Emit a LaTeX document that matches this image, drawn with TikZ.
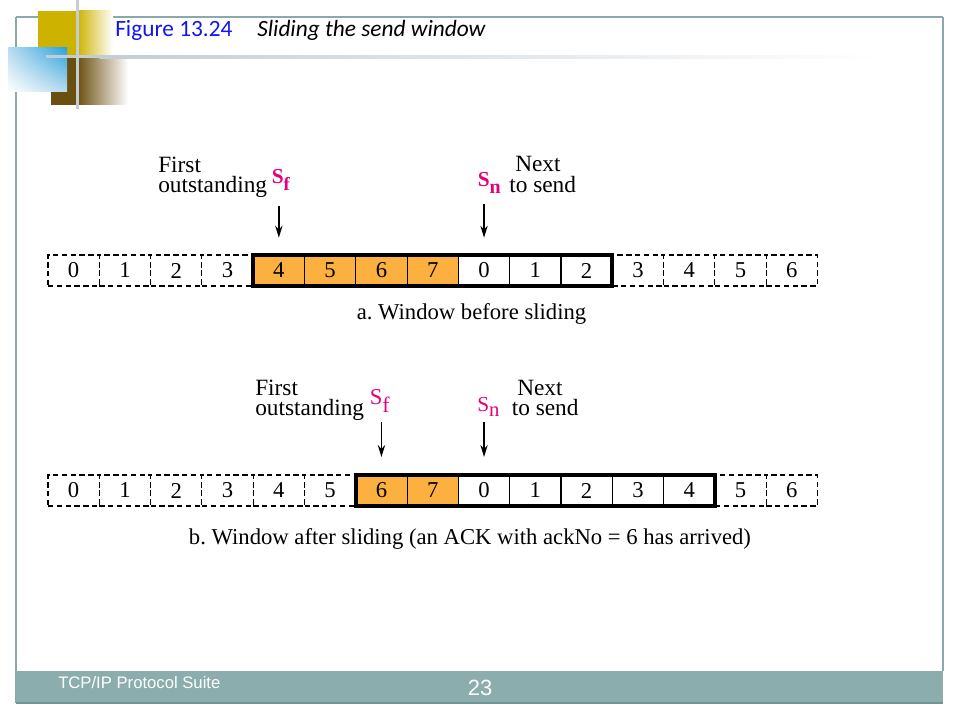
\documentclass[tikz,border=0pt]{standalone}
\usepackage{fontspec}
\setmainfont{Liberation Serif}
\newfontfamily\titlefont{Carlito}
\newfontfamily\footfont{Liberation Sans}
\usetikzlibrary{arrows.meta,shadings}
\definecolor{winorange}{HTML}{FBB040}
\definecolor{ptrmag}{HTML}{E6007E}
\definecolor{framecol}{HTML}{8AA9A9}
\definecolor{framedark}{HTML}{6F9494}
\definecolor{footband}{HTML}{8BADAD}
\definecolor{decogold}{HTML}{CDB200}
\definecolor{decobrown}{HTML}{6B4F0E}
\definecolor{decoblue}{HTML}{2AA3DC}
\definecolor{decolight}{HTML}{B9DBEF}
\definecolor{decoline}{HTML}{C3CDD5}
\definecolor{titleblue}{HTML}{1414F0}
\frenchspacing
\begin{document}
\begin{tikzpicture}[x=0.75pt,y=-0.75pt,
  cellbase/.style={minimum width=38.475pt, minimum height=23.25pt, inner sep=0pt, outer sep=0pt, font=\fontsize{17}{17}\selectfont},
  outcell/.style={cellbase, draw, dash pattern=on 4pt off 2.6pt, line width=0.8pt},
  incell/.style={cellbase, draw, line width=0.9pt, fill=white},
  sentcell/.style={incell, fill=winorange},
  winframe/.style={draw, line width=3pt},
  ptr/.style={-{Stealth[length=9pt,width=5.5pt]}, line width=1pt},
  lbl/.style={anchor=base west, inner sep=0pt, font=\fontsize{17.5}{17.5}\selectfont},
  lineone/.style={lbl, text depth=0pt},
  linetwo/.style={lbl, text height=11pt},
  capt/.style={anchor=base, inner sep=0pt, font=\fontsize{17}{17}\selectfont},
  ptrlbl/.style={anchor=base west, inner sep=0pt, text=ptrmag, text height=10pt}
]
\useasboundingbox (0,0) rectangle (960,720);
\fill[white] (0,0) rectangle (960,720);

% slide frame
\draw[framecol, line width=0.9pt] (16,17) -- (943,17);
\draw[framecol, line width=0.9pt] (16,17) -- (16,703);
\draw[framecol, line width=0.9pt] (943,17) -- (943,671);
\fill[footband] (16,671) rectangle (943,702);
\draw[framedark, line width=1pt] (16,703) -- (943,703);

% decoration
\fill[decogold] (38,11) rectangle (77.5,57);
\shade[left color=decogold, right color=white] (77,11) rectangle (113,57);
\fill[decobrown] (51,57) rectangle (77.5,105);
\shade[left color=decobrown, right color=white] (77,57) rectangle (128,105);
\shade[upper left=decolight, upper right=decoblue, lower left=white, lower right=decolight] (8,48) rectangle (67,92);
\fill[decoline] (76,0) rectangle (79,109);
\fill[decoline] (46,55.5) rectangle (100,58.5);
\shade[left color=decoline, right color=white] (99.5,55.5) rectangle (880,58.5);

% title
\node[anchor=base west, inner sep=0pt, text=titleblue, font=\titlefont\fontsize{17.5}{17.5}\selectfont] (fignum) at (115,36.5) {Figure 13.24};
\node[anchor=base west, inner sep=0pt, font=\titlefont\itshape\fontsize{17.5}{17.5}\selectfont] (figtitle) at (257,36.5) {Sliding the send window};

% row a
\foreach \i in {0,...,3} \node[outcell] (a\i) at ({73.65+51.3*\i},270.5) {\i};
\foreach \i/\l in {4/4,5/5,6/6,7/7} \node[sentcell] (a\i) at ({73.65+51.3*\i},270.5) {\l};
\foreach \i/\l in {8/0,9/1,10/2} \node[incell] (a\i) at ({73.65+51.3*\i},270.5) {\l};
\foreach \i/\l in {11/3,12/4,13/5,14/6} \node[outcell] (a\i) at ({73.65+51.3*\i},270.5) {\l};
\draw[winframe] (a4.north west) rectangle (a10.south east);

\node[lineone] (firstA) at (158,172.7) {First};
\node[linetwo] (outA) at (158,193) {outstanding};
\node[ptrlbl, font=\bfseries\fontsize{16}{16}\selectfont] (sfA) at (271.5,183.5) {S\raisebox{-5.25pt}{\fontsize{14}{14}\selectfont f}};
\node[ptrlbl, font=\bfseries\fontsize{16}{16}\selectfont] (snA) at (477.5,186.5) {S\raisebox{-5pt}{\fontsize{15}{15}\selectfont n}};
\node[lineone] (nextA) at (515,171.7) {Next};
\node[linetwo] (sendA) at (509,192.5) {to send};
\coordinate (sfTopA) at (a4 |- 0,206);
\coordinate (snTopA) at (a8 |- 0,204);
\draw[ptr, shorten >=13pt] (sfTopA) -- (a4.north);
\draw[ptr, shorten >=13pt] (snTopA) -- (a8.north);
\node[capt] (capA) at (471.5,320) {a. Window before sliding};

% row b
\foreach \i in {0,...,5} \node[outcell] (b\i) at ({73.65+51.3*\i},490.5) {\i};
\foreach \i/\l in {6/6,7/7} \node[sentcell] (b\i) at ({73.65+51.3*\i},490.5) {\l};
\foreach \i/\l in {8/0,9/1,10/2,11/3,12/4} \node[incell] (b\i) at ({73.65+51.3*\i},490.5) {\l};
\foreach \i/\l in {13/5,14/6} \node[outcell] (b\i) at ({73.65+51.3*\i},490.5) {\l};
\draw[winframe] (b6.north west) rectangle (b12.south east);

\node[lineone] (firstB) at (255,395) {First};
\node[linetwo] (outB) at (255,415) {outstanding};
\node[ptrlbl, font=\fontsize{17}{17}\selectfont] (sfB) at (369.5,404.7) {S\raisebox{-6pt}{\fontsize{16.5}{16.5}\selectfont f}};
\node[ptrlbl, font=\fontsize{16}{16}\selectfont] (snB) at (477,411) {S\raisebox{-4.3pt}{\fontsize{15.5}{15.5}\selectfont n}};
\node[lineone] (nextB) at (517,395) {Next};
\node[linetwo] (sendB) at (511.5,415) {to send};
\coordinate (sfTopB) at (b6 |- 0,422);
\coordinate (snTopB) at (b8 |- 0,422);
\draw[ptr, shorten >=13.5pt] (sfTopB) -- (b6.north);
\draw[ptr, shorten >=13.5pt] (snTopB) -- (b8.north);
\node[capt] (capB) at (470,544) {b. Window after sliding (an ACK with ackNo = 6 has arrived)};

% footer
\node[anchor=base west, inner sep=0pt, text=white, font=\footfont\fontsize{12.5}{12.5}\selectfont] (footL) at (58,688) {TCP/IP Protocol Suite};
\node[anchor=base, inner sep=0pt, text=white, font=\footfont\fontsize{16.5}{16.5}\selectfont] (footN) at (480,695) {23};
\end{tikzpicture}
\end{document}
